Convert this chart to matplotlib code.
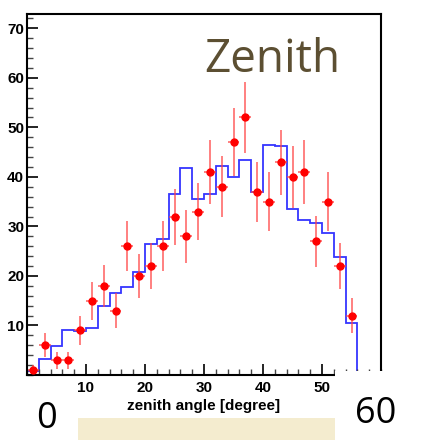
import numpy as np
import matplotlib
matplotlib.use("Agg")
import matplotlib.pyplot as plt
from matplotlib.patches import Rectangle
from matplotlib.ticker import MultipleLocator

# dados (bins de 2 graus)
bin_edges = np.arange(0, 58, 2)
sim_counts = [0.9, 3.2, 5.8, 9.1, 8.8, 9.4, 13.9, 16.5, 17.8, 20.7,
              26.5, 27.4, 36.5, 41.8, 35.6, 36.6, 42.2, 39.9, 43.4, 36.9,
              46.5, 46.2, 33.5, 31.3, 30.6, 28.6, 23.9, 10.4]
data_x = np.arange(1, 57, 2)
data_y = [1, 6, 3, 3, 9, 15, 18, 13, 26, 20, 22, 26, 32, 28, 33,
          41, 38, 47, 52, 37, 35, 43, 40, 41, 27, 35, 22, 12]
y_ticks = [10, 20, 30, 40, 50, 60, 70]
x_ticks = [10, 20, 30, 40, 50]

fig = plt.figure(figsize=(4.24, 4.40), dpi=100)
ax = fig.add_axes([27 / 424, 65 / 440, 354 / 424, 361 / 440])

# histograma de simulacao
ax.stairs(sim_counts, bin_edges, baseline=0, color="#3535ff", lw=1.3)

# pontos de dados com erros de Poisson
yerr = np.sqrt(np.array(data_y, dtype=float))
ax.errorbar(data_x, data_y, xerr=1, yerr=yerr, fmt="none",
            ecolor="#ff4545", elinewidth=1.2, capsize=0, alpha=0.8)
ax.plot(data_x, data_y, "o", color="#ff0000", ms=5, zorder=4)

ax.set_xlim(0, 60)
ax.set_ylim(0, 72.9)
ax.set_xticks(x_ticks)
ax.set_yticks(y_ticks)
ax.xaxis.set_minor_locator(MultipleLocator(2))
ax.yaxis.set_minor_locator(MultipleLocator(2))
ax.tick_params(which="both", direction="in", top=False, right=False)
ax.tick_params(which="major", length=8, width=1.2)
ax.tick_params(which="minor", length=4, width=1.0, color="#444444")
ax.tick_params(axis="y", pad=2)
ax.tick_params(axis="x", pad=4)
for lab in ax.get_xticklabels() + ax.get_yticklabels():
    lab.set_fontfamily("Liberation Sans")
    lab.set_fontweight("bold")
    lab.set_fontsize(11)
for sp in ax.spines.values():
    sp.set_linewidth(1.5)

ax.set_xlabel("zenith angle [degree]", fontfamily="Liberation Sans",
              fontweight="bold", fontsize=11, labelpad=3)

fig.text(204 / 424, 1 - 72 / 440, "Zenith", fontfamily="Open Sans",
         fontsize=33, color="#5c4f32", ha="left", va="baseline")

# caixas brancas sobre o eixo e rotulos grandes
fig.add_artist(Rectangle((0, 0), 78 / 424, 63 / 440, transform=fig.transFigure,
                         facecolor="white", edgecolor="none", zorder=5))
fig.add_artist(Rectangle((335 / 424, 0), 89 / 424, 69 / 440,
                         transform=fig.transFigure, facecolor="white",
                         edgecolor="none", zorder=5))
fig.add_artist(Rectangle((78 / 424, 0), 257 / 424, 22 / 440,
                         transform=fig.transFigure, facecolor="#f4eccf",
                         edgecolor="none", zorder=6))
fig.text(47 / 424, 1 - 428 / 440, "0", fontfamily="Open Sans", fontsize=26,
         ha="center", va="baseline", zorder=7)
fig.text(376 / 424, 1 - 423 / 440, "60", fontfamily="Open Sans", fontsize=26,
         ha="center", va="baseline", zorder=7)

fig.savefig("out.png", dpi=100)
